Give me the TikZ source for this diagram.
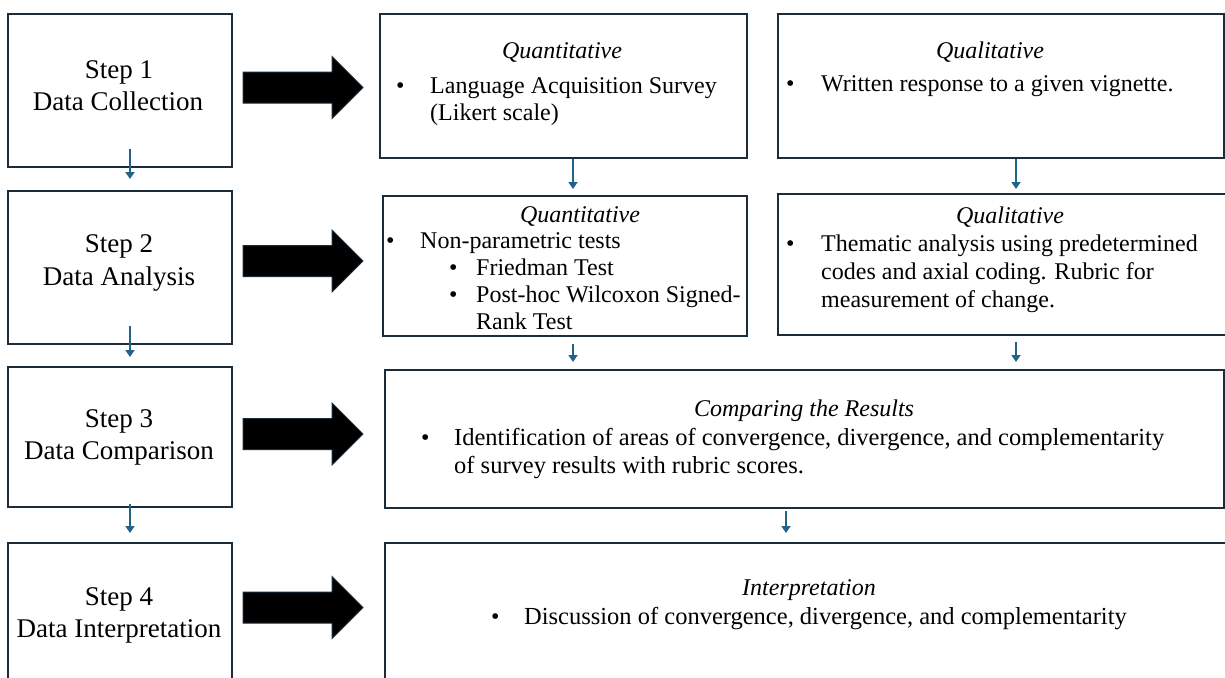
\documentclass[tikz,border=0pt]{standalone}
\usepackage{fontspec}
\setmainfont{Liberation Serif}
\usetikzlibrary{arrows.meta}
\definecolor{boxline}{HTML}{1B2D3B}
\definecolor{flowblue}{HTML}{22638A}
\tikzset{
  box/.style={draw=boxline, line width=2pt, rectangle, inner sep=0pt, anchor=north west},
  steptext/.style={font=\fontsize{27}{32}\selectfont, anchor=base, inner sep=0pt},
  txt/.style={font=\fontsize{24}{28}\selectfont, anchor=base west, inner sep=0pt},
  wtxt/.style={font=\fontsize{24.5}{28}\selectfont, anchor=base west, inner sep=0pt},
  ttl/.style={font=\fontsize{24}{28}\selectfont\itshape, anchor=base, inner sep=0pt},
  flow/.style={draw=flowblue, line width=1.8pt, -{Triangle[width=9pt,length=7pt]}},
  bigarrow/.style={fill=black, draw=boxline, line width=1pt},
  pics/bigarr/.style={code={
    \filldraw[bigarrow] (0,-15.5) -- (89,-15.5) -- (89,-31) -- (120,0) -- (89,31) -- (89,15.5) -- (0,15.5) -- cycle;}}
}
\begin{document}
\begin{tikzpicture}[x=1pt,y=-1pt]
\useasboundingbox (0,0) rectangle (1225,677);
\fill[white] (0,0) rectangle (1225,677);

% step boxes
\node[box, minimum width=224pt, minimum height=153pt] (s1) at (7,13) {};
\node[box, minimum width=224pt, minimum height=153pt] (s2) at (7,190) {};
\node[box, minimum width=224pt, minimum height=140pt] (s3) at (7,366) {};
\node[box, minimum width=224pt, minimum height=150pt] (s4) at (7,542) {};

% content boxes
\node[box, minimum width=367pt, minimum height=144pt] (q1) at (379,13) {};
\node[box, minimum width=446pt, minimum height=144pt] (l1) at (777,13) {};
\node[box, minimum width=364pt, minimum height=140pt] (q2) at (382,195) {};
\node[box, minimum width=450pt, minimum height=141pt] (l2) at (777,193) {};
\node[box, minimum width=839pt, minimum height=138pt] (c3) at (384,369) {};
\node[box, minimum width=843pt, minimum height=150pt] (i4) at (384,542) {};

% step texts
\node[steptext] (s1a) at (119,78) {Step 1};
\node[steptext] (s1b) at (118,110) {Data Collection};
\node[steptext] (s2a) at (119,252) {Step 2};
\node[steptext] (s2b) at (119,285) {Data Analysis};
\node[steptext] (s3a) at (119,427) {Step 3};
\node[steptext] (s3b) at (119,459) {Data Comparison};
\node[steptext] (s4a) at (119,605) {Step 4};
\node[steptext] (s4b) at (119,637) {Data Interpretation};

% row 1
\node[ttl] (q1t) at (562,59) {Quantitative};
\node[txt] (q1b) at (396,93) {•};
\node[txt] (q1x) at (430,93) {Language Acquisition Survey};
\node[txt] (q1y) at (430,120) {(Likert scale)};
\node[ttl] (l1t) at (990,59) {Qualitative};
\node[txt] (l1b) at (786,91) {•};
\node[txt] (l1x) at (821,91) {Written response to a given vignette.};

% row 2
\node[ttl] (q2t) at (580,222) {Quantitative};
\node[txt] (q2b1) at (386,248) {•};
\node[txt] (q2x1) at (420,248) {Non-parametric tests};
\node[txt] (q2b2) at (449,275) {•};
\node[txt] (q2x2) at (476,275) {Friedman Test};
\node[txt] (q2b3) at (449,302) {•};
\node[txt] (q2x3) at (476,302) {Post-hoc Wilcoxon Signed-};
\node[txt] (q2x4) at (476,329) {Rank Test};
\node[ttl] (l2t) at (1010,223) {Qualitative};
\node[txt] (l2b) at (786,251) {•};
\node[txt] (l2x1) at (821,251) {Thematic analysis using predetermined};
\node[txt] (l2x2) at (821,279) {codes and axial coding. Rubric for};
\node[txt] (l2x3) at (821,307) {measurement of change.};

% row 3
\node[ttl] (c3t) at (804,416) {Comparing the Results};
\node[txt] (c3b) at (421,445) {•};
\node[wtxt] (c3x1) at (454,445) {Identification of areas of convergence, divergence, and complementarity};
\node[wtxt] (c3x2) at (454,473) {of survey results with rubric scores.};

% row 4
\node[ttl] (i4t) at (809,595) {Interpretation};
\node[txt] (i4b) at (491,624) {•};
\node[wtxt] (i4x) at (524,624) {Discussion of convergence, divergence, and complementarity};

% big arrows
\coordinate (a1) at (243,87.5);
\coordinate (a2) at (243,261);
\coordinate (a3) at (243,434);
\coordinate (a4) at (243,607.5);
\pic at (a1) {bigarr};
\pic at (a2) {bigarr};
\pic at (a3) {bigarr};
\pic at (a4) {bigarr};

% flow arrows
\draw[flow] ([xshift=10pt,yshift=19pt]s1.south) -- ([xshift=10pt,yshift=11pt]s2.north);
\draw[flow] ([xshift=10pt,yshift=19pt]s2.south) -- ([xshift=10pt,yshift=9pt]s3.north);
\draw[flow] ([xshift=10pt,yshift=4pt]s3.south) -- ([xshift=10pt,yshift=9pt]s4.north);
\draw[flow] ([xshift=9.5pt]q1.south) -- ([xshift=8pt,yshift=6pt]q2.north);
\draw[flow] ([xshift=15pt]l1.south) -- ([xshift=13pt,yshift=4pt]l2.north);
\draw[flow] ([xshift=8pt,yshift=-7pt]q2.south) coordinate (qa) -- ([yshift=7pt]qa |- c3.north);
\draw[flow] ([xshift=13pt,yshift=-6pt]l2.south) coordinate (la) -- ([yshift=7pt]la |- c3.north);
\draw[flow] ([xshift=-18.5pt,yshift=-2pt]c3.south) -- ([xshift=-20.5pt,yshift=9pt]i4.north);
\end{tikzpicture}
\end{document}
